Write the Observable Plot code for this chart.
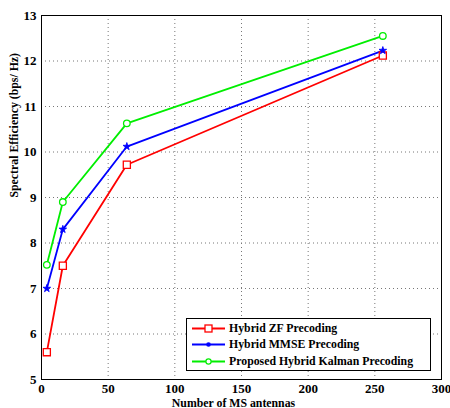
<!DOCTYPE html>
<html><head><meta charset="utf-8">
<script src="https://cdn.jsdelivr.net/npm/d3@7"></script>
<script src="https://cdn.jsdelivr.net/npm/@observablehq/plot@0.6"></script>
<style>
body{margin:0;background:#fff;}
#wrap{position:relative;width:450px;height:408px;font-family:"Liberation Serif","DejaVu Serif",serif;font-weight:bold;}
#legend{position:absolute;left:186px;top:318px;width:245px;height:53px;border:1px solid #000;background:#fff;box-sizing:border-box;font-size:11.8px;}
.row{position:absolute;left:4px;height:16px;display:flex;align-items:center;}
.row svg{margin-right:3px;}
</style></head><body>
<div id="wrap"></div>
<script>
const antennas = [4, 16, 64, 256];
const zf = [5.6, 7.5, 9.72, 12.12];
const mmse = [7.0, 8.3, 10.12, 12.23];
const kalman = [7.52, 8.9, 10.63, 12.55];
const seriesNames = ["Hybrid ZF Precoding", "Hybrid MMSE Precoding", "Proposed Hybrid Kalman Precoding"];
const colors = ["#ff0000", "#0000ff", "#00ee00"];
const xTicks = [0, 50, 100, 150, 200, 250, 300];
const yTicks = [5, 6, 7, 8, 9, 10, 11, 12, 13];

const rows = (vals) => antennas.map((a, i) => ({x: a, y: vals[i]}));
const dZ = rows(zf), dM = rows(mmse), dK = rows(kalman);

const chart = Plot.plot({
  width: 450, height: 408,
  marginLeft: 41, marginRight: 9, marginTop: 15, marginBottom: 29,
  style: {fontFamily: '"Liberation Serif", serif', fontWeight: "bold", fontSize: "13px", color: "#000", background: "#fff"},
  x: {domain: [0, 300], ticks: xTicks, label: null},
  y: {domain: [5, 13], ticks: yTicks, label: null},
  marks: [
    Plot.gridX(xTicks, {stroke: "#777", strokeOpacity: 1, strokeDasharray: "1,3"}),
    Plot.gridY(yTicks, {stroke: "#777", strokeOpacity: 1, strokeDasharray: "1,3"}),
    Plot.axisX(xTicks, {tickSize: 0, tickPadding: 4, fontSize: 13, fontWeight: "bold", label: null}),
    Plot.axisY(yTicks, {tickSize: 0, tickPadding: 5, fontSize: 13, fontWeight: "bold", label: null}),
    Plot.frame({stroke: "#000"}),
    Plot.line(dZ, {x: "x", y: "y", stroke: colors[0], strokeWidth: 1.8}),
    Plot.line(dM, {x: "x", y: "y", stroke: colors[1], strokeWidth: 1.8}),
    Plot.line(dK, {x: "x", y: "y", stroke: colors[2], strokeWidth: 1.8}),
    Plot.dot(dZ, {x: "x", y: "y", symbol: "square", r: 4, stroke: colors[0], fill: "white", strokeWidth: 1.3}),
    Plot.dot(dM, {x: "x", y: "y", symbol: "star", r: 2.4, fill: colors[1], stroke: colors[1], strokeWidth: 0.8}),
    Plot.dot(dK, {x: "x", y: "y", symbol: "circle", r: 3.3, stroke: colors[2], fill: "white", strokeWidth: 1.3}),
    Plot.text(["Number of MS antennas"], {frameAnchor: "bottom", dy: 27, fontSize: 11.8, fontWeight: "bold", dx: -8}),
    Plot.text(["Spectral Efficiency (bps/ Hz)"], {frameAnchor: "left", dx: -27, rotate: -90, fontSize: 11.8, fontWeight: "bold"})
  ]
});
const wrap = document.getElementById("wrap");
wrap.appendChild(chart);

const leg = document.createElement("div");
leg.id = "legend";
const marks = ["square", "star", "circle"];
seriesNames.forEach((name, i) => {
  const r = document.createElement("div");
  r.className = "row";
  r.style.top = (1 + i * 16.5) + "px";
  let m = "";
  if (marks[i] === "square") m = `<rect x="14" y="4" width="7" height="7" fill="white" stroke="${colors[i]}" stroke-width="1.3"/>`;
  else if (marks[i] === "star") m = `<circle cx="17.5" cy="7.5" r="2.3" fill="${colors[i]}"/>`;
  else m = `<circle cx="17.5" cy="7.5" r="2.6" fill="white" stroke="${colors[i]}" stroke-width="1.2"/>`;
  r.innerHTML = `<svg width="35" height="15"><line x1="1" x2="34" y1="7.5" y2="7.5" stroke="${colors[i]}" stroke-width="1.8"/>${m}</svg><span>${name}</span>`;
  leg.appendChild(r);
});
wrap.appendChild(leg);
</script>
</body></html>
